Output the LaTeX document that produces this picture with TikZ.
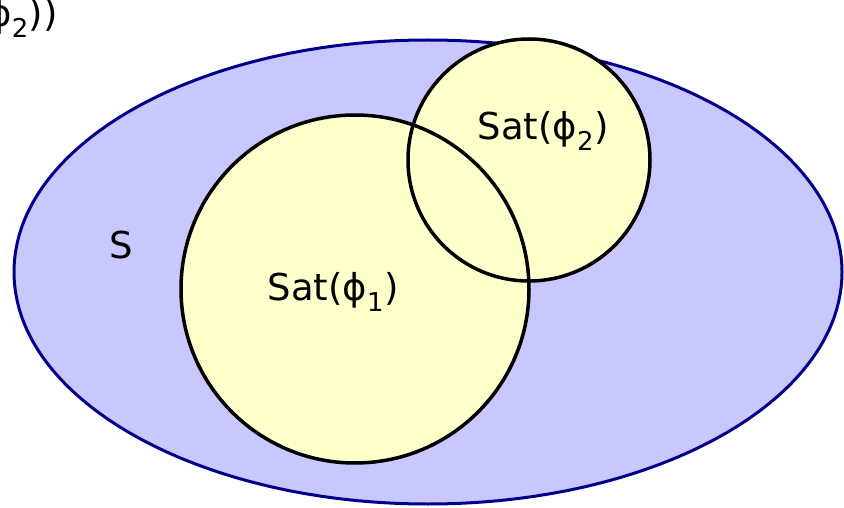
\documentclass[tikz,border=0pt]{standalone}
\usepackage{fontspec}
\setmainfont{DejaVu Sans}
\definecolor{setblue}{HTML}{C8C8FF}
\definecolor{setedge}{HTML}{00008B}
\definecolor{satfill}{HTML}{FFFFCC}
\begin{document}
\begin{tikzpicture}[x=1pt,y=-1pt,
  lbl/.style={font=\fontsize{37}{44}\selectfont, inner sep=0pt}]
\useasboundingbox (0,0) rectangle (844,508);
\clip (0,0) rectangle (844,508);
\fill[setblue] (428,272) ellipse [x radius=414, y radius=232];
\draw[setedge, line width=3pt] (428,272) ellipse [x radius=414, y radius=232];
\fill[satfill] (355,289) circle [radius=174];
\fill[satfill] (529,160) circle [radius=121];
\draw[line width=3.5pt] (355,289) circle [radius=174];
\draw[line width=3.5pt] (529,160) circle [radius=121];
\node[lbl] (s) at (121,245) {S};
\node[lbl] (sat1) at (333,292) {Sat(ϕ\textsubscript{1})};
\node[lbl] (sat2) at (543,131) {Sat(ϕ\textsubscript{2})};
\node[lbl, anchor=base east] (top) at (58,27) {Sat(ϕ\textsubscript{2}))};
\end{tikzpicture}
\end{document}
